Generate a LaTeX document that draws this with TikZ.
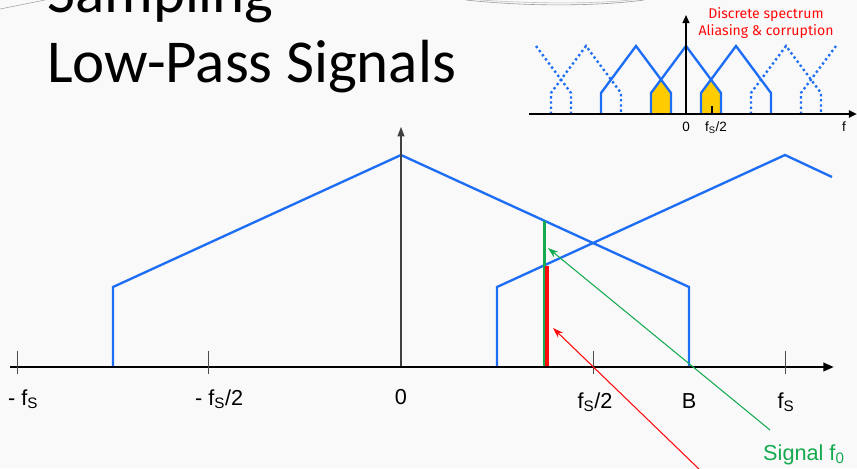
\documentclass[tikz,border=0pt]{standalone}
\usepackage{fontspec}
\setmainfont{Liberation Sans}
\newfontfamily\titlefont{Carlito}
\newfontfamily\notefont{Fira Sans}
\usetikzlibrary{arrows.meta,positioning,calc}

\definecolor{specblue}{RGB}{30,110,245}
\definecolor{siggreen}{RGB}{20,170,80}
\definecolor{aliasred}{RGB}{255,10,10}
\definecolor{overlap}{RGB}{255,204,0}
\definecolor{paper}{RGB}{249,249,249}

\begin{document}
\begin{tikzpicture}[x=0.03cm, y=-0.03cm,
  spec/.style={specblue, line width=2pt, line join=miter},
  ghost/.style={specblue, line width=2pt, dash pattern=on 2pt off 2.4pt},
  axis/.style={line width=2.3pt, -{Triangle[length=9pt,width=7pt]}},
  tick/.style={black!70, line width=0.8pt},
  lab/.style={font=\fontsize{18.5}{20}\selectfont, inner sep=0pt},
  small/.style={font=\fontsize{11.5}{13}\selectfont, inner sep=0pt},
  note/.style={font=\notefont\fontsize{12}{14.5}\selectfont, text=aliasred, align=center, inner sep=0pt},
  title/.style={font=\titlefont\fontsize{52}{60}\selectfont, inner sep=0pt},
  pointer/.style={line width=0.9pt, -{Stealth[length=9pt,width=6pt]}}]
  \useasboundingbox (0,0) rectangle (857,468);
  \clip (0,0) rectangle (857,468);
  \fill[paper] (0,0) rectangle (857,468);
  % slide decoration
  \draw[black!35, line width=0.5pt] (0,9) .. controls (20,5) .. (45,0);
  \draw[black!40, line width=0.5pt] (466,0) .. controls (530,7) and (600,6) .. (644,0);
  \draw[black!25, line width=0.5pt] (480,0) .. controls (540,4) and (600,4) .. (640,-1);
  % title
  \node[title, anchor=base west] (ttl1) at (47,12) {Sampling};
  \node[title, anchor=base west] (ttl2) at (47,82) {Low-Pass Signals};
  % inset: discrete spectrum
  \fill[overlap] (651,114) -- (651,93) -- (661,79.6) -- (671,93) -- (671,114) -- cycle;
  \fill[overlap] (701,114) -- (701,93) -- (711,79.6) -- (721,93) -- (721,114) -- cycle;
  \foreach \k in {-1,0,1} {
    \draw[spec] ({686+50*\k-35},114) -- ({686+50*\k-35},93) -- ({686+50*\k},46)
      -- ({686+50*\k+35},93) -- ({686+50*\k+35},114);
  }
  \foreach \k in {-2,2} {
    \draw[ghost] ({686+50*\k-35},114) -- ({686+50*\k-35},93) -- ({686+50*\k},46)
      -- ({686+50*\k+35},93) -- ({686+50*\k+35},114);
  }
  \draw[ghost] (536,46) -- (571,93) -- (571,114);
  \draw[ghost] (801,114) -- (801,93) -- (836,46);
  \coordinate (il) at (529,114);
  \coordinate (ir) at (857,114);
  \coordinate (io) at (686,114);
  \coordinate (itop) at (686,15);
  \draw[line width=1.8pt, -{Triangle[length=7pt,width=6pt]}] (il) -- (ir);
  \draw[line width=1.3pt, -{Triangle[length=7pt,width=6pt]}] (io) -- (itop);
  \draw[black, line width=1.1pt] (712,106) -- (712,114);
  \node[small, anchor=base] (i0) at (686,131) {0};
  \node[small, anchor=base] (ihf) at (716,131) {f\textsubscript{S}/2};
  \node[small, anchor=base] (if) at (844,131) {f};
  \node[note] (msg) at (766,23) {Discrete spectrum\\Aliasing \& corruption};
  % main spectrum
  \draw[spec] (113,367) -- (113,287) -- (401,155) -- (689,287) -- (689,367);
  \draw[spec] (497,367) -- (497,287) -- (785,155) -- (832,177);
  \draw[siggreen, line width=2pt] (544.5,221) -- (544.5,367);
  \draw[aliasred, line width=2.6pt] (547,266) -- (547,367);
  % axes
  \coordinate (xl) at (10,367);
  \coordinate (xr) at (834,367);
  \coordinate (o) at (401,367);
  \coordinate (ytop) at (401,127);
  \draw[black!75, line width=0.9pt, -{Triangle[length=8pt,width=6pt]}] (o) -- (ytop);
  \draw[axis] (xl) -- (xr);
  \foreach \x in {17,208,593,785} {
    \draw[tick] (\x,351) -- (\x,374);
  }
  \node[lab, anchor=base west] (lmfs) at (8,405) {- f\textsubscript{S}};
  \node[lab, anchor=base west] (lmhf) at (195,405) {- f\textsubscript{S}/2};
  \node[lab, anchor=base] (l0) at (401,404) {0};
  \node[lab, anchor=base] (lhf) at (595,408) {f\textsubscript{S}/2};
  \node[lab, anchor=base] (lb) at (689,408) {B};
  \node[lab, anchor=base] (lfs) at (786,408) {f\textsubscript{S}};
  \node[lab, anchor=base west, text=siggreen] (sig) at (763,460) {Signal f\textsubscript{0}};
  % pointers
  \coordinate (gtail) at (770,430);
  \coordinate (ghead) at (548,248);
  \coordinate (rtail) at (700,470);
  \coordinate (rhead) at (553,328);
  \draw[pointer, siggreen] (gtail) -- (ghead);
  \draw[pointer, aliasred] (rtail) -- (rhead);
\end{tikzpicture}
\end{document}
